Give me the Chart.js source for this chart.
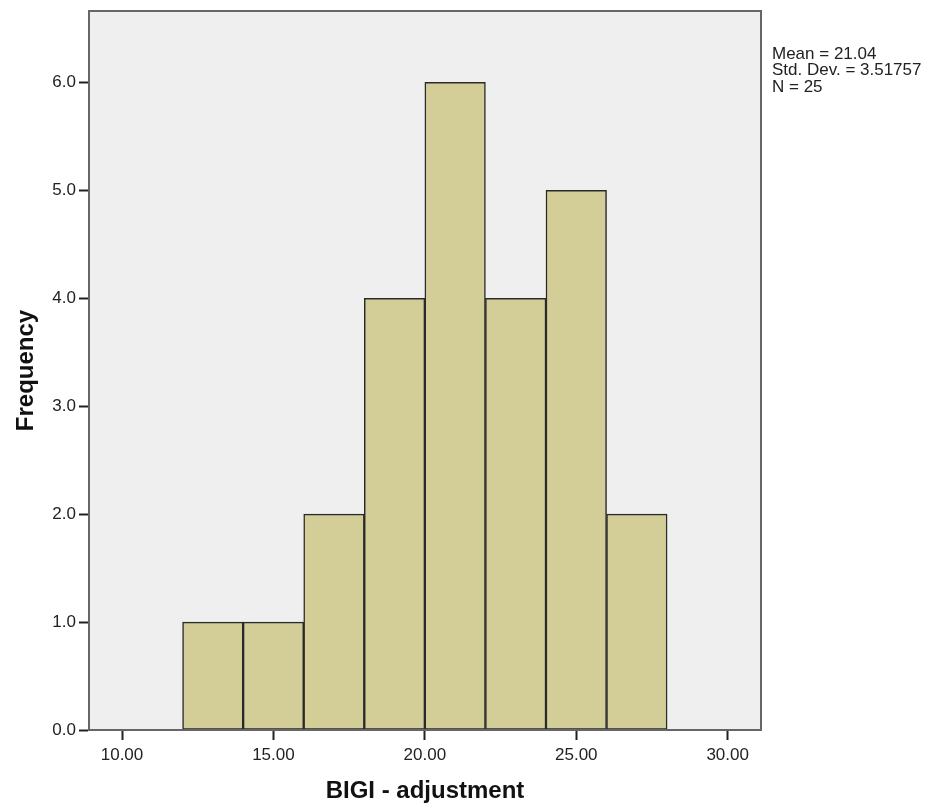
<!DOCTYPE html>
<html>
<head>
<meta charset="utf-8">
<script src="https://cdn.jsdelivr.net/npm/chart.js@4.4.1/dist/chart.umd.min.js"></script>
<style>
  html, body { margin: 0; padding: 0; background: #ffffff; }
  #wrap { width: 932px; height: 809px; position: relative; }
</style>
</head>
<body>
<div id="wrap"><canvas id="c"></canvas></div>
<script>
// Histogram bins (lower edge, upper edge) and frequencies
const binStarts = [12, 14, 16, 18, 20, 22, 24, 26];
const binWidth = 2;
const frequencies = [1, 1, 2, 4, 6, 4, 5, 2];
const xTickValues = [10, 15, 20, 25, 30];
const yTickValues = [0, 1, 2, 3, 4, 5, 6];
const statsLines = ['Mean = 21.04', 'Std. Dev. = 3.51757', 'N = 25'];
const xTitle = 'BIGI - adjustment';
const yTitle = 'Frequency';

const barData = binStarts.map((s, i) => ({ x: s + binWidth / 2, y: frequencies[i] }));

const plotFrame = {
  id: 'plotFrame',
  beforeDraw(chart) {
    const { ctx, chartArea: a } = chart;
    ctx.save();
    ctx.fillStyle = '#efefef';
    ctx.fillRect(a.left, a.top, a.right - a.left, a.bottom - a.top);
    ctx.restore();
  },
  afterDraw(chart) {
    const { ctx, chartArea: a } = chart;
    ctx.save();
    ctx.strokeStyle = '#666666';
    ctx.lineWidth = 2;
    ctx.strokeRect(a.left, a.top, a.right - a.left, a.bottom - a.top);
    ctx.fillStyle = '#222222';
    ctx.font = '17px "Liberation Sans", Arial, sans-serif';
    ctx.textBaseline = 'middle';
    ctx.textAlign = 'left';
    statsLines.forEach((t, i) => ctx.fillText(t, a.right + 11, 54 + i * 16.5));
    ctx.restore();
  }
};

new Chart(document.getElementById('c'), {
  type: 'bar',
  data: {
    datasets: [{
      data: barData,
      backgroundColor: '#d3ce98',
      borderColor: '#2a2a2a',
      borderWidth: 1.5,
      barPercentage: 1.0,
      categoryPercentage: 1.0,
      borderSkipped: false
    }]
  },
  options: {
    responsive: true,
    maintainAspectRatio: false,
    animation: false,
    layout: { padding: { top: 11, right: 171, left: 0, bottom: 0 } },
    plugins: { legend: { display: false }, tooltip: { enabled: false } },
    scales: {
      x: {
        type: 'linear',
        offset: false,
        min: 8.91,
        max: 31.1,
        afterBuildTicks(scale) { scale.ticks = xTickValues.map(v => ({ value: v })); },
        afterFit(scale) { scale.height = 79; scale.paddingLeft = 0; scale.paddingRight = 0; },
        ticks: {
          color: '#222222',
          font: { family: '"Liberation Sans", Arial, sans-serif', size: 17 },
          padding: 5,
          maxRotation: 0,
          callback: v => v.toFixed(2)
        },
        grid: { display: true, offset: false, drawOnChartArea: false, drawTicks: true, tickLength: 10, tickColor: '#222222', tickWidth: 2 },
        border: { display: true, color: '#666666', width: 2 },
        title: {
          display: true,
          text: xTitle,
          color: '#111111',
          font: { family: '"Liberation Sans", Arial, sans-serif', size: 24, weight: 'bold' },
          padding: { top: 0, bottom: 3 }
        }
      },
      y: {
        type: 'linear',
        min: 0,
        max: 6.662,
        afterBuildTicks(scale) { scale.ticks = yTickValues.map(v => ({ value: v })); },
        afterFit(scale) { scale.width = 89; scale.paddingTop = 0; scale.paddingBottom = 0; },
        ticks: {
          color: '#222222',
          font: { family: '"Liberation Sans", Arial, sans-serif', size: 17 },
          padding: 3,
          callback: v => v.toFixed(1)
        },
        grid: { display: true, drawOnChartArea: false, drawTicks: true, tickLength: 10, tickColor: '#222222', tickWidth: 2 },
        border: { display: true, color: '#666666', width: 2 },
        title: {
          display: true,
          text: yTitle,
          color: '#111111',
          font: { family: '"Liberation Sans", Arial, sans-serif', size: 24, weight: 'bold' },
          padding: { top: 12, bottom: 0 }
        }
      }
    }
  },
  plugins: [plotFrame]
});
</script>
</body>
</html>
